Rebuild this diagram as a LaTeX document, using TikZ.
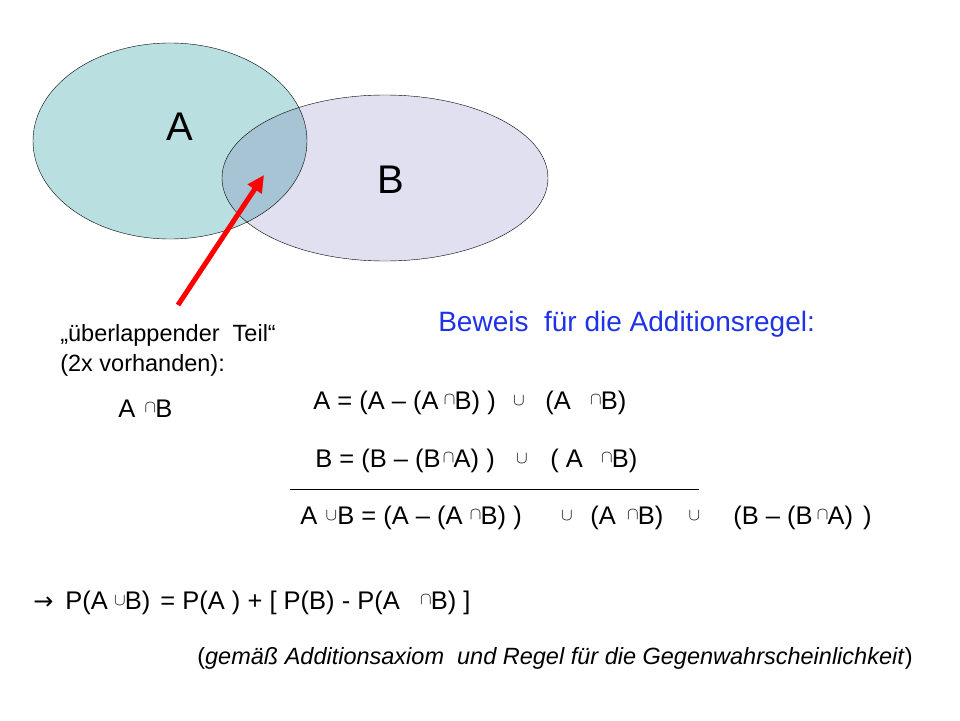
\documentclass[tikz,border=0pt]{standalone}
\usepackage{fontspec}
\setmainfont{Liberation Sans}
\newfontfamily\arrowfont{DejaVu Sans}
\usetikzlibrary{arrows.meta}

\definecolor{setAcol}{RGB}{185,223,225}
\definecolor{setBcol}{RGB}{224,224,240}
\definecolor{cutcol}{RGB}{166,196,212}
\definecolor{beweisblue}{RGB}{30,50,230}

\newcommand{\schnitt}{\makebox[10pt]{\raisebox{5pt}{\fontsize{17}{17}\selectfont$\cap$}}}
\newcommand{\vereint}{\makebox[10pt]{\raisebox{4.5pt}{\fontsize{17}{17}\selectfont$\cup$}}}

\begin{document}
\begin{tikzpicture}[x=1pt, y=-1pt, semithick]
  \tikzstyle{txt} = [anchor=west, inner sep=0pt, font=\fontsize{23.5}{30}\selectfont]
  \tikzstyle{formel} = [txt, font=\fontsize{25.5}{30}\selectfont]
  \tikzstyle{setlabel} = [inner sep=0pt, font=\fontsize{40}{40}\selectfont]
  \tikzstyle{pointer} = [draw=red, line width=5pt, -{Triangle[length=17pt,width=16pt]}]
  \useasboundingbox (0,0) rectangle (960,720);

  % Sets
  \fill [setAcol] (170,141) ellipse [x radius=137, y radius=98];
  \fill [setBcol] (385,178) ellipse [x radius=163, y radius=83];
  \begin{scope}
    \clip (170,141) ellipse [x radius=137, y radius=98];
    \fill [cutcol] (385,178) ellipse [x radius=163, y radius=83];
  \end{scope}
  \draw [thin] (170,141) ellipse [x radius=137, y radius=98];
  \draw [thin] (385,178) ellipse [x radius=163, y radius=83];
  \node [setlabel] (labA) at (180,127) {A};
  \node [setlabel] (labB) at (391,180) {B};

  % Overlap pointer
  \coordinate (tail) at (178,305);
  \coordinate (tip) at (264,175);
  \path [pointer] (tail) -- (tip);

  % Texts
  \node [txt, align=left] (overlap) at (60,350) {„überlappender\ \ Teil“\\(2x vorhanden):};
  \node [formel] (cutAB) at (118,409) {A\hspace{10pt}\schnitt B};
  \node [txt, font=\fontsize{28}{32}\selectfont, text=beweisblue] (beweis) at (438,324)
        {Beweis\ \ für die Additionsregel:};

  \node [formel] (eqA) at (313,403)
        {A = (A – (A\hspace{6pt}\schnitt B) )\hspace{18pt}\vereint\hspace{21.5pt}(A\hspace{20pt}\schnitt B)};
  \node [formel] (eqB) at (315,461)
        {B = (B – (B\hspace{3pt}\schnitt A) )\hspace{22pt}\vereint\hspace{23.5pt}( A\hspace{19pt}\schnitt B)};
  \coordinate (ruleL) at (290,489);
  \coordinate (ruleR) at (699,489);
  \draw [thin] (ruleL) -- (ruleR);
  \node [formel] (eqAB) at (300,518)
        {A\hspace{9pt}\vereint\hspace{1pt}B = (A – (A\hspace{8pt}\schnitt B) )\hspace{40pt}\vereint\hspace{18.5pt}(A\hspace{12pt}\schnitt B)\hspace{26pt}\vereint};
  \node [formel] (eqBrest) at (733,518) {(B – (B\hspace{5pt}\schnitt A)\hspace{10pt})};

  \node [formel] (result) at (33,603)
        {{\arrowfont\fontsize{24}{26}\selectfont →}\hspace{12pt}P(A\hspace{7pt}\vereint B)\hspace{10pt}= P(A ) + [ P(B) - P(A\hspace{21pt}\schnitt B) ]};
  \node [txt] (note) at (197,658)
        {(\textit{gemäß Additionsaxiom\ \ und Regel für die Gegenwahrscheinlichkeit})};
\end{tikzpicture}
\end{document}
